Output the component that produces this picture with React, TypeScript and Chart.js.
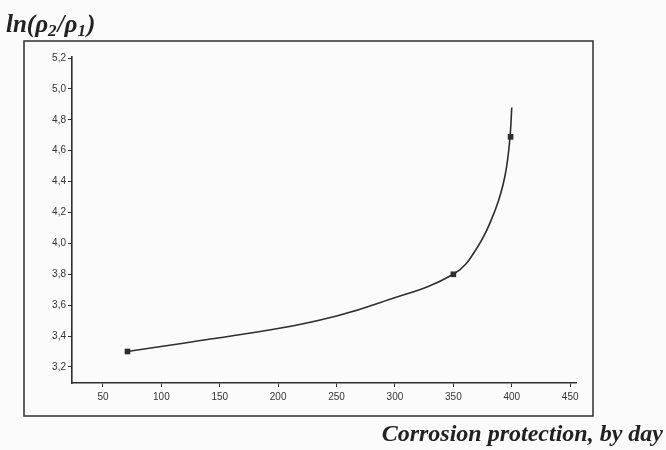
import React, { useEffect, useRef } from "react";
import { Chart, registerables } from "chart.js";

Chart.register(...registerables);

// Measured points (markers)
const POINT_X = [71, 350, 399];
const POINT_Y = [3.3, 3.8, 4.69];

// Fitted curve
const CURVE_X = [71, 201, 250, 287, 350, 371, 386, 394, 398.3, 400];
const CURVE_Y = [3.3, 3.45, 3.53, 3.615, 3.8, 3.98, 4.22, 4.43, 4.67, 4.88];

const X_TICKS = [50, 100, 150, 200, 250, 300, 350, 400, 450];
const Y_TICKS = [3.2, 3.4, 3.6, 3.8, 4.0, 4.2, 4.4, 4.6, 4.8, 5.0, 5.2];

// y title pieces: [text, isSubscript]
const Y_TITLE_PARTS: [string, boolean][] = [
  ["ln(ρ", false],
  ["2", true],
  ["/ρ", false],
  ["1", true],
  [")", false],
];
const X_TITLE = "Corrosion protection, by day";

const INK = "#2e2e2e";

export default function App() {
  const ref = useRef<HTMLCanvasElement | null>(null);

  useEffect(() => {
    if (!ref.current) return;
    const framePlugin = {
      id: "frame",
      beforeDraw(chart: any) {
        const ctx = chart.ctx;
        ctx.save();
        ctx.fillStyle = "#fbfbfb";
        ctx.fillRect(0, 0, chart.width, chart.height);
        ctx.restore();
      },
      afterDraw(chart: any) {
        const ctx = chart.ctx;
        ctx.save();
        ctx.strokeStyle = "#3a3a3a";
        ctx.lineWidth = 1.6;
        ctx.strokeRect(24, 41, 569, 375);
        ctx.fillStyle = "#222";
        ctx.textAlign = "left";
        ctx.textBaseline = "alphabetic";
        let x = 6;
        for (const [t, sub] of Y_TITLE_PARTS) {
          ctx.font = sub
            ? "italic bold 17px 'Liberation Serif', 'DejaVu Serif', serif"
            : "italic bold 25px 'Liberation Serif', 'DejaVu Serif', serif";
          ctx.fillText(t, x, sub ? 36 : 32);
          x += ctx.measureText(t).width + (sub ? 1 : 0);
        }
        ctx.font = "italic bold 24px 'Liberation Serif', 'DejaVu Serif', serif";
        ctx.textAlign = "right";
        ctx.fillText(X_TITLE, 663, 441);
        ctx.restore();
      },
    };

    const chart = new Chart(ref.current, {
      type: "scatter",
      data: {
        datasets: [
          {
            data: POINT_X.map((x, i) => ({ x, y: POINT_Y[i] })),
            showLine: false,
            pointStyle: "rect",
            pointRadius: 4,
            backgroundColor: INK,
            borderColor: INK,
            borderWidth: 0,
            order: 0,
          },
          {
            data: CURVE_X.map((x, i) => ({ x, y: CURVE_Y[i] })),
            showLine: true,
            pointRadius: 0,
            borderColor: INK,
            borderWidth: 1.6,
            tension: 0.4,
            fill: false,
            order: 1,
          },
        ],
      },
      options: {
        animation: false,
        responsive: false,
        maintainAspectRatio: false,
        layout: { padding: { left: 0, top: 57, right: 90, bottom: 0 } },
        plugins: {
          legend: { display: false },
          tooltip: { enabled: false },
          title: { display: false },
        },
        scales: {
          x: {
            type: "linear",
            min: 23.5,
            max: 455,
            afterBuildTicks: (s: any) => {
              s.ticks = X_TICKS.map((v) => ({ value: v }));
            },
            afterFit: (s: any) => {
              s.height = 67;
            },
            grid: {
              drawOnChartArea: false,
              drawTicks: true,
              tickLength: 4,
              tickColor: INK,
              tickWidth: 1,
            },
            border: { display: true, color: INK, width: 1.6 },
            ticks: {
              color: "#333",
              padding: 4,
              maxRotation: 0,
              autoSkip: false,
              font: { family: "'Liberation Sans', Arial, sans-serif", size: 10 },
              callback: (v: any) => String(v),
            },
          },
          y: {
            type: "linear",
            min: 3.096,
            max: 5.207,
            afterBuildTicks: (s: any) => {
              s.ticks = Y_TICKS.map((v) => ({ value: v }));
            },
            afterFit: (s: any) => {
              s.width = 72;
            },
            grid: {
              drawOnChartArea: false,
              drawTicks: true,
              tickLength: 4,
              tickColor: INK,
              tickWidth: 1,
            },
            border: { display: true, color: INK, width: 1.6 },
            ticks: {
              color: "#333",
              padding: 2,
              autoSkip: false,
              font: { family: "'Liberation Sans', Arial, sans-serif", size: 10 },
              callback: (v: any) => Number(v).toFixed(1).replace(".", ","),
            },
          },
        },
      },
      plugins: [framePlugin],
    } as any);
    return () => chart.destroy();
  }, []);

  return (
    <div style={{ position: "fixed", left: 0, top: 0, width: 666, height: 450 }}>
      <canvas ref={ref} width={666} height={450} style={{ display: "block" }} />
    </div>
  );
}
